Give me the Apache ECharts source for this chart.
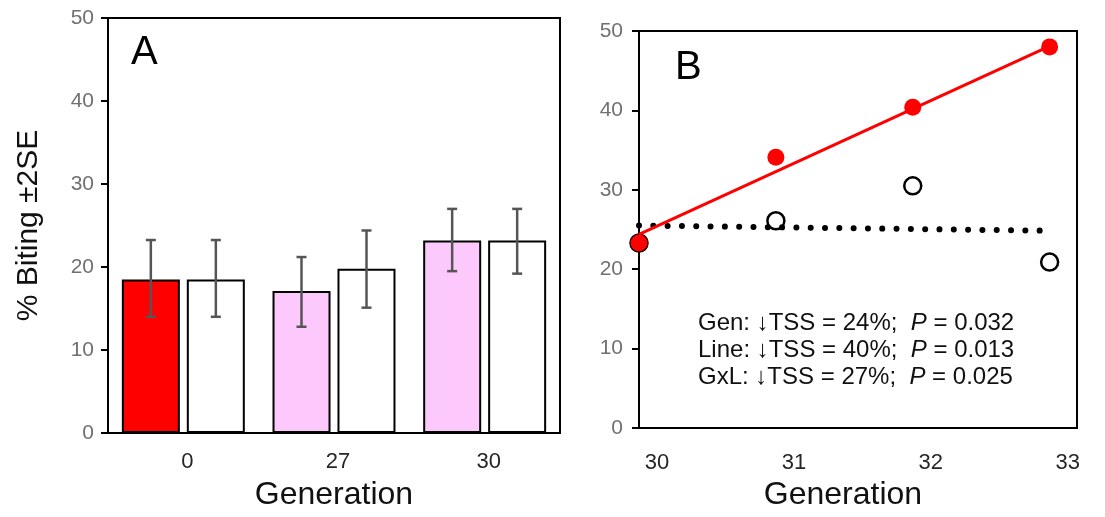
<!DOCTYPE html>
<html>
<head>
<meta charset="utf-8">
<script src="https://cdn.jsdelivr.net/npm/echarts@6/dist/echarts.min.js"></script>
<style>
  html, body { margin: 0; padding: 0; background: #fff; }
  #chart { width: 1105px; height: 517px; }
</style>
</head>
<body>
<div id="chart"></div>
<script>
// panel A: % biting by generation (selected line vs control)
var genA = ['0', '27', '30'];
var selMean = [18.5, 17.1, 23.2];
var selLo = [14.0, 12.8, 19.5];
var selHi = [23.25, 21.2, 27.0];
var ctlMean = [18.5, 19.8, 23.2];
var ctlLo = [14.0, 15.1, 19.2];
var ctlHi = [23.25, 24.4, 27.0];

// panel B: generations 30-33
var genB = [30, 31, 32, 33];
var selB = [23.3, 34.1, 40.4, 48.0];
var ctlB = [23.3, 26.1, 30.5, 20.9];
var selFitX = [30, 33];
var selFitY = [24.4, 48.1];
var ctlFitX = [30, 32.97];
var ctlFitY = [25.5, 24.85];

var statLines = [
    ['Gen: \u2193TSS = 24%;  ', '0.032'],
    ['Line: \u2193TSS = 40%;  ', '0.013'],
    ['GxL: \u2193TSS = 27%;  ', '0.025']
];

var FONT = '"Liberation Sans", Arial, sans-serif';
var selColors = ['#ff0000', '#fdc8fb', '#fdc8fb'];

function zip(a, b) {
    return a.map(function (v, i) { return [v, b[i]]; });
}

function errBar(offset) {
    return function (params, api) {
        var i = api.value(0);
        var top = api.coord([i, api.value(2)]);
        var bot = api.coord([i, api.value(1)]);
        var x = top[0] + offset;
        var st = { stroke: '#555', lineWidth: 2.5 };
        return {
            type: 'group',
            children: [
                { type: 'line', shape: { x1: x, y1: top[1], x2: x, y2: bot[1] }, style: st },
                { type: 'line', shape: { x1: x - 5, y1: top[1], x2: x + 5, y2: top[1] }, style: st },
                { type: 'line', shape: { x1: x - 5, y1: bot[1], x2: x + 5, y2: bot[1] }, style: st }
            ]
        };
    };
}

var chart = echarts.init(document.getElementById('chart'));

var yAxisCommon = {
    type: 'value',
    min: 0,
    max: 50,
    interval: 10,
    axisLine: { show: true, lineStyle: { color: '#000', width: 2 } },
    axisTick: { show: true, inside: false, length: 7, lineStyle: { color: '#000', width: 2 } },
    splitLine: { show: false },
    axisLabel: { color: '#707070', fontSize: 21, fontFamily: FONT, margin: 14 }
};

var option = {
    backgroundColor: '#fff',
    animation: false,
    textStyle: { fontFamily: FONT },
    grid: [
        { left: 108, top: 18, width: 452, height: 415, show: true, borderColor: '#000', borderWidth: 2 },
        { left: 639, top: 31, width: 438, height: 397, show: true, borderColor: '#000', borderWidth: 2 }
    ],
    xAxis: [
        {
            type: 'category',
            gridIndex: 0,
            data: genA,
            axisLine: { lineStyle: { color: '#000', width: 2 } },
            axisTick: { show: false },
            axisLabel: { color: '#262626', fontSize: 22, fontFamily: FONT, margin: 18, padding: [0, 0, 0, 8] },
            name: 'Generation',
            nameLocation: 'middle',
            nameGap: 46,
            nameTextStyle: { color: '#111', fontSize: 32, fontFamily: FONT }
        },
        {
            type: 'value',
            gridIndex: 1,
            min: 30,
            max: 33.2,
            interval: 1,
            axisLine: { lineStyle: { color: '#000', width: 2 } },
            axisTick: { show: false },
            splitLine: { show: false },
            axisLabel: {
                color: '#262626', fontSize: 22, fontFamily: FONT, margin: 24,
                padding: [0, 0, 0, 36],
                showMaxLabel: false,
                formatter: function (v) { return genB.indexOf(v) >= 0 ? String(v) : ''; }
            },
            name: 'Generation',
            nameLocation: 'middle',
            nameGap: 51,
            nameTextStyle: { color: '#111', fontSize: 32, fontFamily: FONT, padding: [0, 30, 0, 0] }
        }
    ],
    yAxis: [
        Object.assign({}, yAxisCommon, {
            gridIndex: 0,
            name: '% Biting \u00b12SE',
            nameLocation: 'middle',
            nameRotate: 90,
            nameGap: 64,
            nameTextStyle: { color: '#111', fontSize: 30, fontFamily: FONT }
        }),
        Object.assign({}, yAxisCommon, {
            gridIndex: 1,
            axisLabel: { color: '#707070', fontSize: 21, fontFamily: FONT, margin: 16 }
        })
    ],
    series: [
        {
            type: 'bar',
            xAxisIndex: 0, yAxisIndex: 0,
            barWidth: 58,
            barGap: '12%',
            data: selMean.map(function (v, i) {
                return { value: v, itemStyle: { color: selColors[i] } };
            }),
            itemStyle: { borderColor: '#000', borderWidth: 2 }
        },
        {
            type: 'bar',
            xAxisIndex: 0, yAxisIndex: 0,
            barWidth: 58,
            barGap: '12%',
            data: ctlMean,
            itemStyle: { color: '#fff', borderColor: '#000', borderWidth: 2 }
        },
        {
            type: 'custom',
            xAxisIndex: 0, yAxisIndex: 0,
            renderItem: errBar(-32.5),
            data: selLo.map(function (v, i) { return [i, v, selHi[i]]; }),
            z: 5
        },
        {
            type: 'custom',
            xAxisIndex: 0, yAxisIndex: 0,
            renderItem: errBar(32.5),
            data: ctlLo.map(function (v, i) { return [i, v, ctlHi[i]]; }),
            z: 5
        },
        {
            type: 'scatter',
            xAxisIndex: 1, yAxisIndex: 1,
            data: zip(genB, ctlB),
            symbol: 'circle',
            symbolSize: 17,
            clip: false,
            itemStyle: { color: '#fff', borderColor: '#000', borderWidth: 2.5, opacity: 1 },
            z: 2
        },
        {
            type: 'line',
            xAxisIndex: 1, yAxisIndex: 1,
            data: zip(ctlFitX, ctlFitY),
            symbol: 'none',
            lineStyle: { color: '#000', width: 6, type: [0.01, 14.3], cap: 'round' },
            z: 3
        },
        {
            type: 'line',
            xAxisIndex: 1, yAxisIndex: 1,
            data: zip(selFitX, selFitY),
            symbol: 'none',
            lineStyle: { color: '#ff0000', width: 3 },
            z: 4
        },
        {
            type: 'scatter',
            xAxisIndex: 1, yAxisIndex: 1,
            data: zip(genB, selB),
            symbol: 'circle',
            symbolSize: 17,
            clip: false,
            itemStyle: { color: '#ff0000', opacity: 1 },
            z: 5
        }
    ],
    graphic: [
        {
            type: 'text', left: 131, top: 33,
            style: { text: 'A', fontSize: 40, fontFamily: FONT, fill: '#000' }
        },
        {
            type: 'text', left: 675, top: 48,
            style: { text: 'B', fontSize: 40, fontFamily: FONT, fill: '#000' }
        },
        {
            type: 'text', left: 698, top: 310,
            style: {
                text: statLines.map(function (l) {
                    return l[0] + '{i|P} = ' + l[1];
                }).join('\n'),
                fontSize: 24,
                lineHeight: 27,
                fontFamily: FONT,
                fill: '#111',
                rich: {
                    i: { fontStyle: 'italic', fontSize: 24, fontFamily: FONT, fill: '#111' }
                }
            }
        }
    ]
};

chart.setOption(option);
</script>
</body>
</html>
